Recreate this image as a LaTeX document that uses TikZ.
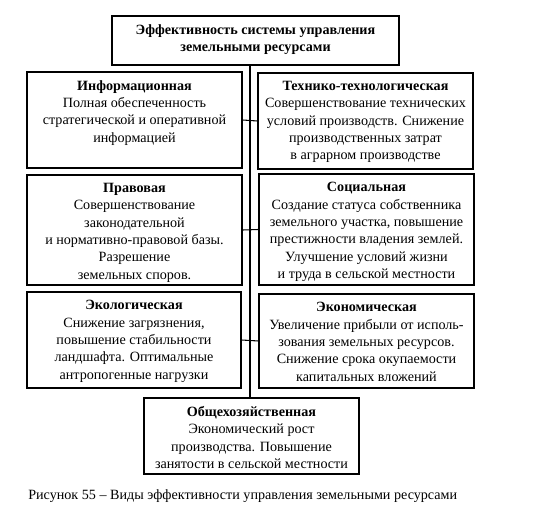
\documentclass[tikz,border=0pt]{standalone}
\usepackage{fontspec}
\setmainfont{Liberation Serif}
\usetikzlibrary{fit}
\begin{document}
\begin{tikzpicture}[x=0.75pt,y=-0.75pt,
  frame/.style={draw, line width=0.8pt, inner sep=0pt},
  txt/.style={anchor=north, inner sep=0pt, align=center, font=\fontsize{10.6}{13}\selectfont},
  link/.style={draw, line width=0.8pt}]
\useasboundingbox (0,0) rectangle (547,510);
% boxes
\coordinate (t1) at (112,16); \coordinate (t2) at (399,65);
\node[frame, fit=(t1)(t2)] (top) {};
\coordinate (a1) at (27,72); \coordinate (a2) at (242,168);
\node[frame, fit=(a1)(a2)] (info) {};
\coordinate (b1) at (258,73); \coordinate (b2) at (473,169);
\node[frame, fit=(b1)(b2)] (tech) {};
\coordinate (c1) at (27,175); \coordinate (c2) at (242,285);
\node[frame, fit=(c1)(c2)] (law) {};
\coordinate (d1) at (259,174); \coordinate (d2) at (474,285);
\node[frame, fit=(d1)(d2)] (soc) {};
\coordinate (e1) at (27,292); \coordinate (e2) at (241,388);
\node[frame, fit=(e1)(e2)] (eco) {};
\coordinate (f1) at (259,294); \coordinate (f2) at (474,388);
\node[frame, fit=(f1)(f2)] (econ) {};
\coordinate (g1) at (144,398); \coordinate (g2) at (359,474);
\node[frame, fit=(g1)(g2)] (gen) {};
% texts
\node[txt] (topT) at ([yshift=-6.5pt]top.north) {\textbf{Эффективность системы управления}\\\textbf{земельными ресурсами}};
\node[txt] (infoT) at ([yshift=-6.5pt]info.north) {\textbf{Информационная}\\Полная обеспеченность\\стратегической и оперативной\\информацией};
\node[txt] (techT) at ([yshift=-6.5pt]tech.north) {\textbf{Технико-технологическая}\\Совершенствование технических\\условий производств. Снижение\\производственных затрат\\в аграрном производстве};
\node[txt] (lawT) at ([yshift=-6.5pt]law.north) {\textbf{Правовая}\\Совершенствование\\законодательной\\и нормативно-правовой базы.\\Разрешение\\земельных споров.};
\node[txt] (socT) at ([yshift=-6.5pt]soc.north) {\textbf{Социальная}\\Создание статуса собственника\\земельного участка, повышение\\престижности владения землей.\\Улучшение условий жизни\\и труда в сельской местности};
\node[txt] (ecoT) at ([yshift=-6.5pt]eco.north) {\textbf{Экологическая}\\Снижение загрязнения,\\повышение стабильности\\ландшафта. Оптимальные\\антропогенные нагрузки};
\node[txt] (econT) at ([yshift=-6.5pt]econ.north) {\textbf{Экономическая}\\Увеличение прибыли от исполь-\\зования земельных ресурсов.\\Снижение срока окупаемости\\капитальных вложений};
\node[txt] (genT) at ([yshift=-6.5pt]gen.north) {\textbf{Общехозяйственная}\\Экономический рост\\производства. Повышение\\занятости в сельской местности};
% connectors
\coordinate (spine) at (250,0);
\path[link] (top.south -| spine) -- (gen.north -| spine);
\path[link] (info.east) -- (tech.west);
\path[link] (law.east) -- (soc.west);
\path[link] (eco.east) -- (econ.west);
% caption
\node[anchor=west, inner sep=0pt, font=\fontsize{10.6}{13}\selectfont] (cap) at (28,496) {Рисунок 55 – Виды эффективности управления земельными ресурсами};
\end{tikzpicture}
\end{document}
